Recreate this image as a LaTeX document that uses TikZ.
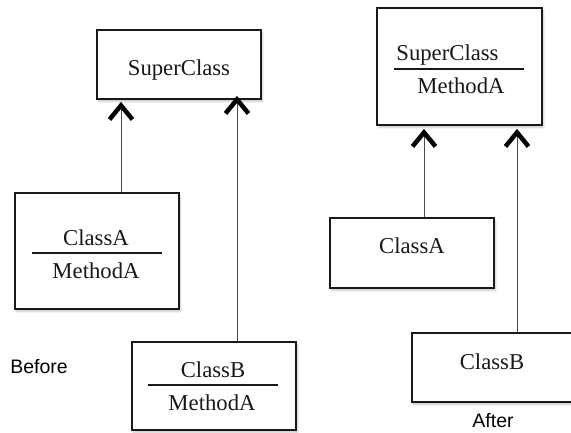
\documentclass[tikz,border=0pt]{standalone}
\usepackage{fontspec}
\setmainfont{Liberation Serif}
\newfontfamily\labelsans{Liberation Sans}
\usetikzlibrary{arrows.meta,shadows.blur}

\tikzset{
  classbox/.style={draw=black!90, line width=1.8pt, fill=white, inner sep=0pt,
    blur shadow={shadow xshift=1.5pt, shadow yshift=-2.5pt, shadow opacity=22, shadow blur steps=6}},
  classtext/.style={inner sep=0pt, anchor=base, font=\fontsize{22.7}{26}\selectfont, text=black!90},
  captiontext/.style={inner sep=0pt, anchor=base, font=\labelsans\fontsize{19.5}{22}\selectfont},
  divider/.style={line width=1.4pt, black!90},
  inherits/.style={line width=0.9pt, black!70,
    -{Straight Barb[length=14pt, width=23pt, line width=4.5pt, black]}}
}

\begin{document}
\begin{tikzpicture}[x=1pt, y=-1pt]
\useasboundingbox (0,0) rectangle (571,432);

% ---------- Before ----------
\node[classbox, minimum width=164pt, minimum height=69pt] (sl) at (179,64.5) {};
\node[classtext] (slname) at (179,75) {SuperClass};

\node[classbox, minimum width=164pt, minimum height=116pt] (cal) at (97,251) {};
\node[classtext] (calname) at (96,245) {ClassA};
\draw[divider] (32,253) -- (162,253);
\node[classtext] (calmeth) at (96,278) {MethodA};

\node[classbox, minimum width=164pt, minimum height=88pt] (cbl) at (214,386) {};
\node[classtext] (cblname) at (213,377) {ClassB};
\draw[divider] (148,385) -- (278,385);
\node[classtext] (cblmeth) at (212,410) {MethodA};

\node[captiontext] (before) at (39,373) {Before};

\draw[inherits] ([xshift=24pt]cal.north) -- ([xshift=24pt, yshift=-2pt]cal.north |- sl.south);
\draw[inherits] ([xshift=23pt]cbl.north) -- ([xshift=23pt, yshift=4pt]cbl.north |- sl.south);

% ---------- After ----------
\node[classbox, minimum width=165pt, minimum height=117pt] (sr) at (459.5,66.5) {};
\node[classtext] (srname) at (447.5,60) {SuperClass};
\draw[divider] (394,69) -- (524,69);
\node[classtext] (srmeth) at (461,93) {MethodA};

\node[classbox, minimum width=164pt, minimum height=70pt] (car) at (412,253) {};
\node[classtext] (carname) at (412,253) {ClassA};

\node[classbox, minimum width=168pt, minimum height=69pt] (cbr) at (496,367.5) {};
\node[classtext] (cbrname) at (492,369) {ClassB};

\node[captiontext] (after) at (493,427) {After};

\draw[inherits] ([xshift=12pt]car.north) -- ([xshift=12pt, yshift=-3pt]car.north |- sr.south);
\draw[inherits] ([xshift=21pt]cbr.north) -- ([xshift=21pt, yshift=-3pt]cbr.north |- sr.south);
\end{tikzpicture}
\end{document}
